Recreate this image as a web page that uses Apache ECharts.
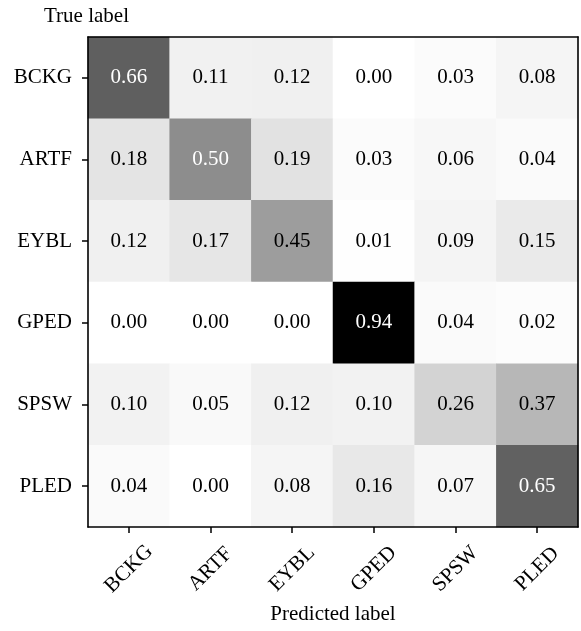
<!DOCTYPE html>
<html><head><meta charset="utf-8">
<script src="https://cdn.jsdelivr.net/npm/echarts@6/dist/echarts.min.js"></script>
<style>html,body{margin:0;padding:0;background:#fff}#c{width:581px;height:631px}</style>
</head><body><div id="c"></div>
<script>
const categories = ['BCKG','ARTF','EYBL','GPED','SPSW','PLED'];
const rowBCKG = [0.66,0.11,0.12,0.00,0.03,0.08];
const rowARTF = [0.18,0.50,0.19,0.03,0.06,0.04];
const rowEYBL = [0.12,0.17,0.45,0.01,0.09,0.15];
const rowGPED = [0.00,0.00,0.00,0.94,0.04,0.02];
const rowSPSW = [0.10,0.05,0.12,0.10,0.26,0.37];
const rowPLED = [0.04,0.00,0.08,0.16,0.07,0.65];
const rows = [rowBCKG,rowARTF,rowEYBL,rowGPED,rowSPSW,rowPLED];

const FONT = 'Liberation Serif';
let vmax = 0;
rows.forEach(r=>r.forEach(v=>{ if(v>vmax) vmax=v; }));
const thresh = vmax/2;
const data = [];
rows.forEach((r,i)=>r.forEach((v,j)=>{
  data.push({value:[j,i,v], label:{color: v>thresh ? '#ffffff' : '#000000'}});
}));

const chart = echarts.init(document.getElementById('c'), null, {renderer:'canvas'});
const axisCommon = {
  type:'category', data:categories, z:10,
  axisLine:{show:true, lineStyle:{color:'#000', width:1.6}},
  splitLine:{show:false}, splitArea:{show:false}
};
chart.setOption({
  animation:false,
  backgroundColor:'#fff',
  title:{text:'True label', left:39, top:1, textStyle:{fontFamily:FONT, fontSize:21, fontWeight:'normal', color:'#000'}},
  grid:{left:88, top:37, width:490, height:490},
  xAxis:[Object.assign({}, axisCommon, {
    position:'bottom',
    axisTick:{show:true, alignWithLabel:true, length:6, lineStyle:{color:'#000', width:1.5}},
    axisLabel:{rotate:45, margin:42, align:'center', verticalAlign:'middle', fontFamily:FONT, fontSize:21, color:'#000'},
    name:'Predicted label', nameLocation:'middle', nameGap:70,
    nameTextStyle:{fontFamily:FONT, fontSize:21, color:'#000'}
  }), Object.assign({}, axisCommon, {
    position:'top', axisTick:{show:false}, axisLabel:{show:false}
  })],
  yAxis:[Object.assign({}, axisCommon, {
    position:'left', inverse:true,
    axisTick:{show:true, alignWithLabel:true, length:6, lineStyle:{color:'#000', width:1.5}},
    axisLabel:{margin:16, fontFamily:FONT, fontSize:21, color:'#000'}
  }), Object.assign({}, axisCommon, {
    position:'right', inverse:true, axisTick:{show:false}, axisLabel:{show:false}
  })],
  visualMap:{show:false, min:0, max:vmax, dimension:2,
    inRange:{color:['#ffffff','#f0f0f0','#d9d9d9','#bdbdbd','#969696','#737373','#525252','#252525','#000000']}},
  series:[{
    type:'heatmap', data:data, z:1,
    label:{show:true, fontFamily:FONT, fontSize:21, formatter:p=>p.value[2].toFixed(2)},
    itemStyle:{borderWidth:0}
  }]
});
</script></body></html>
